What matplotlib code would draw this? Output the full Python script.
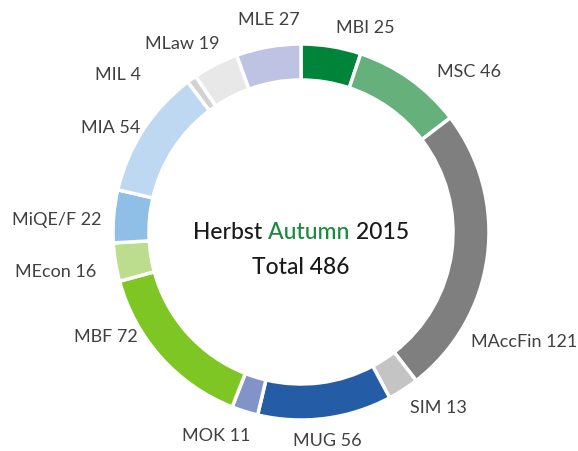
import matplotlib.pyplot as plt

# programmes, clockwise from 12 o'clock
programmes = ["MBI", "MSC", "MAccFin", "SIM", "MUG", "MOK", "MBF",
              "MEcon", "MiQE/F", "MIA", "MIL", "MLaw", "MLE"]
students = [25, 46, 121, 13, 56, 11, 72, 16, 22, 54, 4, 19, 27]

colors = ["#00843a", "#66b07c", "#7f7f7f", "#c4c4c4", "#245ca5", "#8293c8",
          "#7dc623", "#bcdd8e", "#8fbfe7", "#bed8f1", "#d2d2d2", "#e8e8e8",
          "#bec3e3"]

# label anchor points in pixels (layout only)
label_pos = [(336, 28), (437, 72), (471, 342), (410, 408), (293, 441),
             (250, 436), (138, 337), (96, 272), (101, 220), (140, 128),
             (141, 75), (219, 44), (300, 20)]
label_ha = ["left", "left", "left", "left", "left", "right", "right",
            "right", "right", "right", "right", "right", "right"]

W, H = 578, 452
fig = plt.figure(figsize=(W / 100, H / 100), dpi=100)
ax = fig.add_axes([0, 0, 1, 1])

cx, cy, r = 301, H - 233, 188
ax.pie(students, colors=colors, startangle=90, counterclock=False,
       center=(cx, cy), radius=r, frame=True,
       wedgeprops=dict(width=36, edgecolor="white", linewidth=2.5))
ax.set_xlim(0, W)
ax.set_ylim(0, H)
ax.set_aspect("equal")
ax.axis("off")

font = "Lato"
for name, n, (x, y), ha in zip(programmes, students, label_pos, label_ha):
    ax.text(x, H - y, f"{name} {n}", ha=ha, va="center", fontsize=13,
            color="#404040", family=font)

# title line in three colours, centred as a whole
parts = [("Herbst ", "#1a1a1a"), ("Autumn ", "#1a8a3c"), ("2015", "#1a1a1a")]
fs = 16.5
texts = [ax.text(0, H - 233, s, ha="left", va="center", fontsize=fs,
                 color=c, family=font, weight="medium") for s, c in parts]
fig.canvas.draw()
rend = fig.canvas.get_renderer()
widths = [t.get_window_extent(rend).width for t in texts]
x0 = cx - sum(widths) / 2
for t, w in zip(texts, widths):
    t.set_x(x0)
    x0 += w
ax.text(cx, H - 268, f"Total {sum(students)}", ha="center", va="center",
        fontsize=fs, color="#1a1a1a", family=font, weight="medium")

fig.savefig("out.png", dpi=100)
